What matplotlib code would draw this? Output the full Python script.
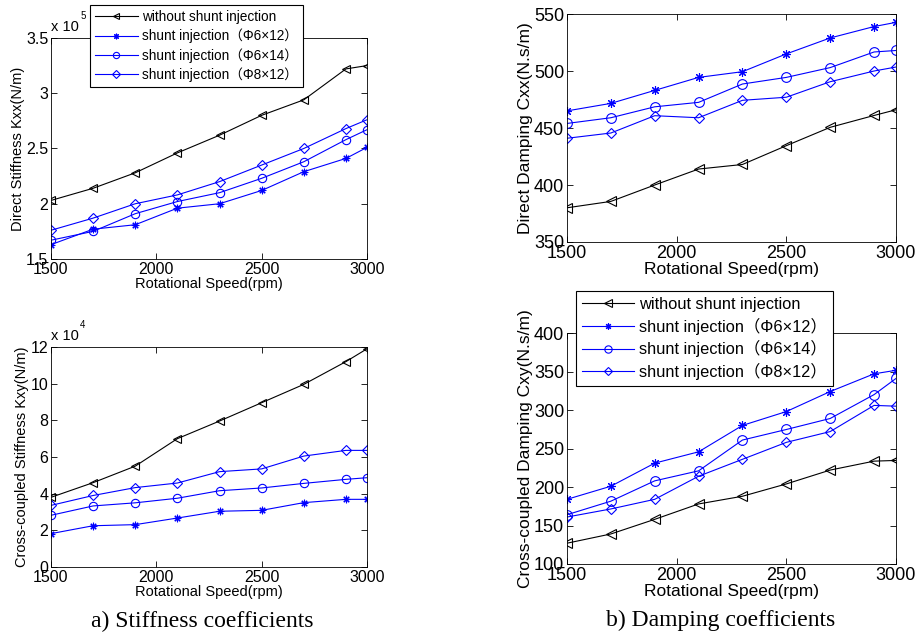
import matplotlib
matplotlib.use("Agg")
import matplotlib.pyplot as plt
from matplotlib.ticker import FuncFormatter, MultipleLocator

plt.rcParams["font.family"] = ["Liberation Sans", "Noto Sans CJK SC", "DejaVu Sans"]

speed = [1500, 1700, 1900, 2100, 2300, 2500, 2700, 2900, 3000]

series_names = [
    "without shunt injection",
    "shunt injection（Φ6×12）",
    "shunt injection（Φ6×14）",
    "shunt injection（Φ8×12）",
]

# direct stiffness Kxx, N/m
kxx_without = [2.03e5, 2.14e5, 2.28e5, 2.46e5, 2.62e5, 2.80e5, 2.94e5, 3.22e5, 3.25e5]
kxx_6x12 = [1.63e5, 1.77e5, 1.81e5, 1.96e5, 2.00e5, 2.12e5, 2.29e5, 2.41e5, 2.51e5]
kxx_6x14 = [1.67e5, 1.75e5, 1.91e5, 2.02e5, 2.10e5, 2.23e5, 2.38e5, 2.58e5, 2.67e5]
kxx_8x12 = [1.76e5, 1.87e5, 2.00e5, 2.08e5, 2.20e5, 2.35e5, 2.50e5, 2.68e5, 2.76e5]

# cross-coupled stiffness Kxy, N/m
kxy_without = [3.8e4, 4.6e4, 5.5e4, 7.0e4, 7.96e4, 8.96e4, 9.96e4, 11.2e4, 11.9e4]
kxy_6x12 = [1.82e4, 2.25e4, 2.31e4, 2.67e4, 3.04e4, 3.09e4, 3.51e4, 3.69e4, 3.69e4]
kxy_6x14 = [2.82e4, 3.33e4, 3.50e4, 3.75e4, 4.16e4, 4.31e4, 4.56e4, 4.78e4, 4.87e4]
kxy_8x12 = [3.36e4, 3.90e4, 4.33e4, 4.58e4, 5.20e4, 5.35e4, 6.05e4, 6.36e4, 6.36e4]

# direct damping Cxx, N.s/m
cxx_without = [380, 385.6, 400, 414, 418, 434.5, 450.6, 461, 466]
cxx_6x12 = [465, 471.6, 483, 494.4, 499.4, 515, 529, 539, 542.7]
cxx_6x14 = [454, 459, 468.6, 472.5, 488.6, 494.4, 503, 516.7, 518]
cxx_8x12 = [441, 445.6, 460.8, 459, 474.3, 477, 490.6, 500, 503.5]

# cross-coupled damping Cxy, N.s/m
cxy_without = [127, 139, 158, 178, 188, 204, 222, 233.6, 234.5]
cxy_6x12 = [184, 201, 231, 245.7, 280, 298, 324, 347, 351.6]
cxy_6x14 = [164, 181.6, 208, 221, 261, 274.7, 289, 320, 341]
cxy_8x12 = [161, 171.5, 184, 214, 236, 258, 272, 306, 305]

# marker, size factor (MATLAB-ish look)
styles = [
    (dict(color="black", marker="<", mfc="none"), 1.0),
    (dict(color="blue", marker=(8, 2, 0), mfc="blue"), 0.9),
    (dict(color="blue", marker="o", mfc="none"), 1.0),
    (dict(color="blue", marker="D", mfc="none"), 0.8),
]


def matlab_fmt(scale):
    def f(v, pos):
        return f"{v / scale:.2f}".rstrip("0").rstrip(".")
    return FuncFormatter(f)


def draw(ax, curves, ylim, ystep, ylabel, fs, lfs, ms, scale=None, exp=None):
    for y, (st, k) in zip(curves, styles):
        ax.plot(speed, y, lw=0.8, ms=ms * k, mew=0.8, **st)
    ax.set_xlim(1500, 3000)
    ax.set_ylim(*ylim)
    ax.xaxis.set_major_locator(MultipleLocator(500))
    ax.yaxis.set_major_locator(MultipleLocator(ystep))
    if scale:
        ax.yaxis.set_major_formatter(matlab_fmt(scale))
        ax.text(0.0, 1.02, "x 10", transform=ax.transAxes, fontsize=fs - 1,
                ha="left", va="bottom")
        ax.text(0.092, 1.075, str(exp), transform=ax.transAxes, fontsize=fs - 4.5,
                ha="left", va="bottom")
    ax.tick_params(direction="in", top=True, right=True, labelsize=fs,
                   length=4.5, width=0.6)
    ax.tick_params(axis="x", pad=2.5)
    ax.tick_params(axis="y", pad=2)
    for sp in ax.spines.values():
        sp.set_linewidth(0.6)
    ax.set_xlabel("Rotational Speed(rpm)", fontsize=lfs, labelpad=0)
    ax.set_ylabel(ylabel, fontsize=lfs, labelpad=1)


fig = plt.figure(figsize=(9.17, 6.37), dpi=100)
ax_kxx = fig.add_axes([0.0556, 0.5934, 0.3446, 0.347])
ax_kxy = fig.add_axes([0.0556, 0.1099, 0.3446, 0.3454])
ax_cxx = fig.add_axes([0.6183, 0.6201, 0.3588, 0.3579])
ax_cxy = fig.add_axes([0.6183, 0.1146, 0.3588, 0.3626])

fs_l, lfs_l = 11.5, 10.5
fs_r, lfs_r = 13, 12.5

draw(ax_kxx, [kxx_without, kxx_6x12, kxx_6x14, kxx_8x12], (1.5e5, 3.5e5), 0.5e5,
     "Direct Stiffness Kxx(N/m)", fs_l, lfs_l, 6, scale=1e5, exp=5)
draw(ax_kxy, [kxy_without, kxy_6x12, kxy_6x14, kxy_8x12], (0, 12e4), 2e4,
     "Cross-coupled Stiffness Kxy(N/m)", fs_l, lfs_l, 6, scale=1e4, exp=4)
draw(ax_cxx, [cxx_without, cxx_6x12, cxx_6x14, cxx_8x12], (350, 550), 50,
     "Direct Damping Cxx(N.s/m)", fs_r, lfs_r, 7)
draw(ax_cxy, [cxy_without, cxy_6x12, cxy_6x14, cxy_8x12], (100, 400), 50,
     "Cross-coupled Damping Cxy(N.s/m)", fs_r, lfs_r, 7)

for ax, fs, anchor in [(ax_kxx, 9.8, (0.098, 0.992)), (ax_cxy, 11.8, (0.628, 0.543))]:
    leg = ax.legend(ax.get_lines(), series_names, loc="upper left",
                    bbox_to_anchor=anchor, bbox_transform=fig.transFigure,
                    fontsize=fs, fancybox=False, framealpha=1,
                    edgecolor="black", borderpad=0.35, labelspacing=0.35,
                    handlelength=3.2, handletextpad=0.3, markerscale=0.75,
                    borderaxespad=0)
    leg.get_frame().set_linewidth(0.8)
    leg.set_zorder(10)

fig.text(0.221, 0.024, "a) Stiffness coefficients", family="Liberation Serif",
         fontsize=17, ha="center", va="center")
fig.text(0.786, 0.026, "b) Damping coefficients", family="Liberation Serif",
         fontsize=17, ha="center", va="center")

fig.savefig("out.png", dpi=100)
plt.close(fig)
